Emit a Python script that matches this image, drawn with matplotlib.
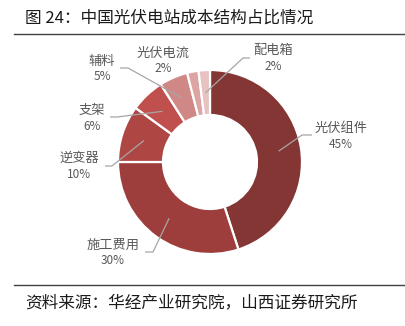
import matplotlib.pyplot as plt
import numpy as np

plt.rcParams["font.family"] = ["Noto Sans CJK SC", "DejaVu Sans"]

# cost shares, clockwise from 12 o'clock
categories = ["光伏组件", "施工费用", "逆变器", "支架", "辅料", "光伏电流", "配电箱"]
shares = [45, 30, 10, 6, 5, 2, 2]
colors = ["#843634", "#9E3E3C", "#AE4744", "#C0504D", "#D08886", "#DCA4A3", "#E7C2C1"]

title = "图 24：中国光伏电站成本结构占比情况"
source = "资料来源：华经产业研究院，山西证券研究所"

W, H = 406, 326
fig = plt.figure(figsize=(W / 100, H / 100), dpi=100)
ax = fig.add_axes([0, 0, 1, 1])

cx, cy, r_out, r_in = 210, 162, 92, 47

# axes run in pixel units with y pointing down, so -90 deg is the top
# and "counterclock" turns clockwise on screen
wedges, _ = ax.pie(
    shares, colors=colors, startangle=-90, counterclock=True,
    radius=r_out, center=(cx, cy), frame=True,
    wedgeprops=dict(width=r_out - r_in, edgecolor="white", linewidth=1.6),
)
ax.set_xlim(0, W)
ax.set_ylim(H, 0)
ax.set_aspect("equal")
ax.axis("off")

# label layout: name centre, elbow + end of leader (None = no leader)
label_pos = [(341, 128), (113, 245), (79, 158), (92, 110), (102, 61), (163, 53), (273, 50)]
leader = [
    [(302, 135), (312, 135)],
    [(153, 252), (145, 252)],
    [(112, 166), (105, 166)],
    [(117, 117), (110, 117)],
    [(128, 68), (120, 68)],
    None,
    [(243, 58), (250, 58)],
]

total = sum(shares)
start = 0.0
r_mid = (r_out + r_in) / 2
for name, val, (lx, ly), ld in zip(categories, shares, label_pos, leader):
    mid = np.deg2rad((start + val / 2) / total * 360)
    start += val
    px, py = cx + r_mid * np.sin(mid), cy - r_mid * np.cos(mid)
    if ld is not None:
        xs = [px] + [p[0] for p in ld]
        ys = [py] + [p[1] for p in ld]
        ax.plot(xs, ys, color="#A6A6A6", lw=0.9, solid_capstyle="butt")
    ax.text(lx, ly, name, ha="center", va="center", fontsize=9.5, color="#595959")
    ax.text(lx, ly + 16, f"{val}%", ha="center", va="center", fontsize=8.5, color="#595959")

# header / footer rules
ax.plot([14, W], [34, 34], color="#404040", lw=1.0)
ax.plot([14, W], [285, 285], color="#404040", lw=1.0)
ax.text(25, 18, title, ha="left", va="center", fontsize=12, color="#1a1a1a")
ax.text(25, 303, source, ha="left", va="center", fontsize=12, color="#1a1a1a")

fig.savefig("out.png", dpi=100)
